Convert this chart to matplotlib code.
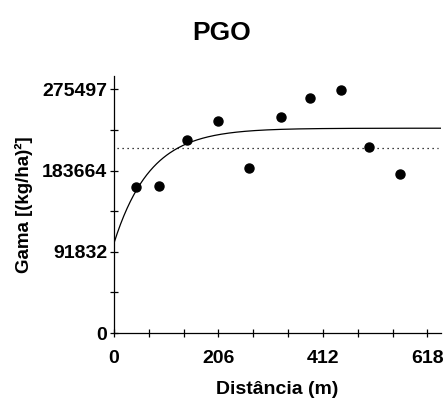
import numpy as np
import matplotlib.pyplot as plt
from matplotlib.ticker import FixedLocator

plt.rcParams['font.family'] = ['Liberation Sans', 'DejaVu Sans']
plt.rcParams['font.weight'] = 'bold'

# experimental semivariogram
distancia = [42.7, 89.4, 144.5, 205.7, 265.4, 329.2, 385.7, 448.1, 503.3, 563.1]
gama = [164500, 165600, 217600, 239400, 186300, 244700, 266100, 274800, 210400, 179900]

# fitted exponential model
efeito_pepita = 101600
patamar = 231500
alcance = 215
variancia = 208900

x_ticks = [0, 206, 412, 618]
y_ticks = [0, 91832, 183664, 275497]

fig = plt.figure(figsize=(4.47, 4.0), dpi=100)
ax = fig.add_axes([0.255, 0.1675, 0.732, 0.6425])

h = np.linspace(0, 645, 300)
modelo = efeito_pepita + (patamar - efeito_pepita) * (1 - np.exp(-3 * h / alcance))
ax.plot(h, modelo, color='black', linewidth=0.9)
ax.axhline(variancia, xmin=0.01, xmax=0.99, color='black', linestyle=(0, (1, 3)), linewidth=0.9)
ax.plot(distancia, gama, 'o', color='black', markersize=6.5)

ax.set_xlim(0, 645)
ax.set_ylim(0, 290500)
ax.set_xticks(x_ticks)
ax.set_yticks(y_ticks)
ax.set_xticklabels([str(v) for v in x_ticks])
ax.set_yticklabels([str(v) for v in y_ticks])
ax.xaxis.set_minor_locator(FixedLocator(np.arange(0, 645, 206 / 3)))
ax.yaxis.set_minor_locator(FixedLocator(np.arange(0, 290500, 91832 / 2)))
ax.tick_params(which='both', direction='inout', length=6, width=0.9, labelsize=14)
ax.tick_params(axis='x', pad=9)
ax.tick_params(axis='y', pad=2)

for side in ('top', 'right'):
    ax.spines[side].set_visible(False)
for side in ('left', 'bottom'):
    ax.spines[side].set_linewidth(0.9)

ax.set_xlabel('Distância (m)', fontsize=14, fontweight='bold', labelpad=10)
ax.set_ylabel('Gama [(kg/ha)²]', fontsize=13.5, fontweight='bold', labelpad=6)
fig.text(0.495, 0.9175, 'PGO', ha='center', va='center', fontsize=19, fontweight='bold')

fig.savefig('out.png', dpi=100)
